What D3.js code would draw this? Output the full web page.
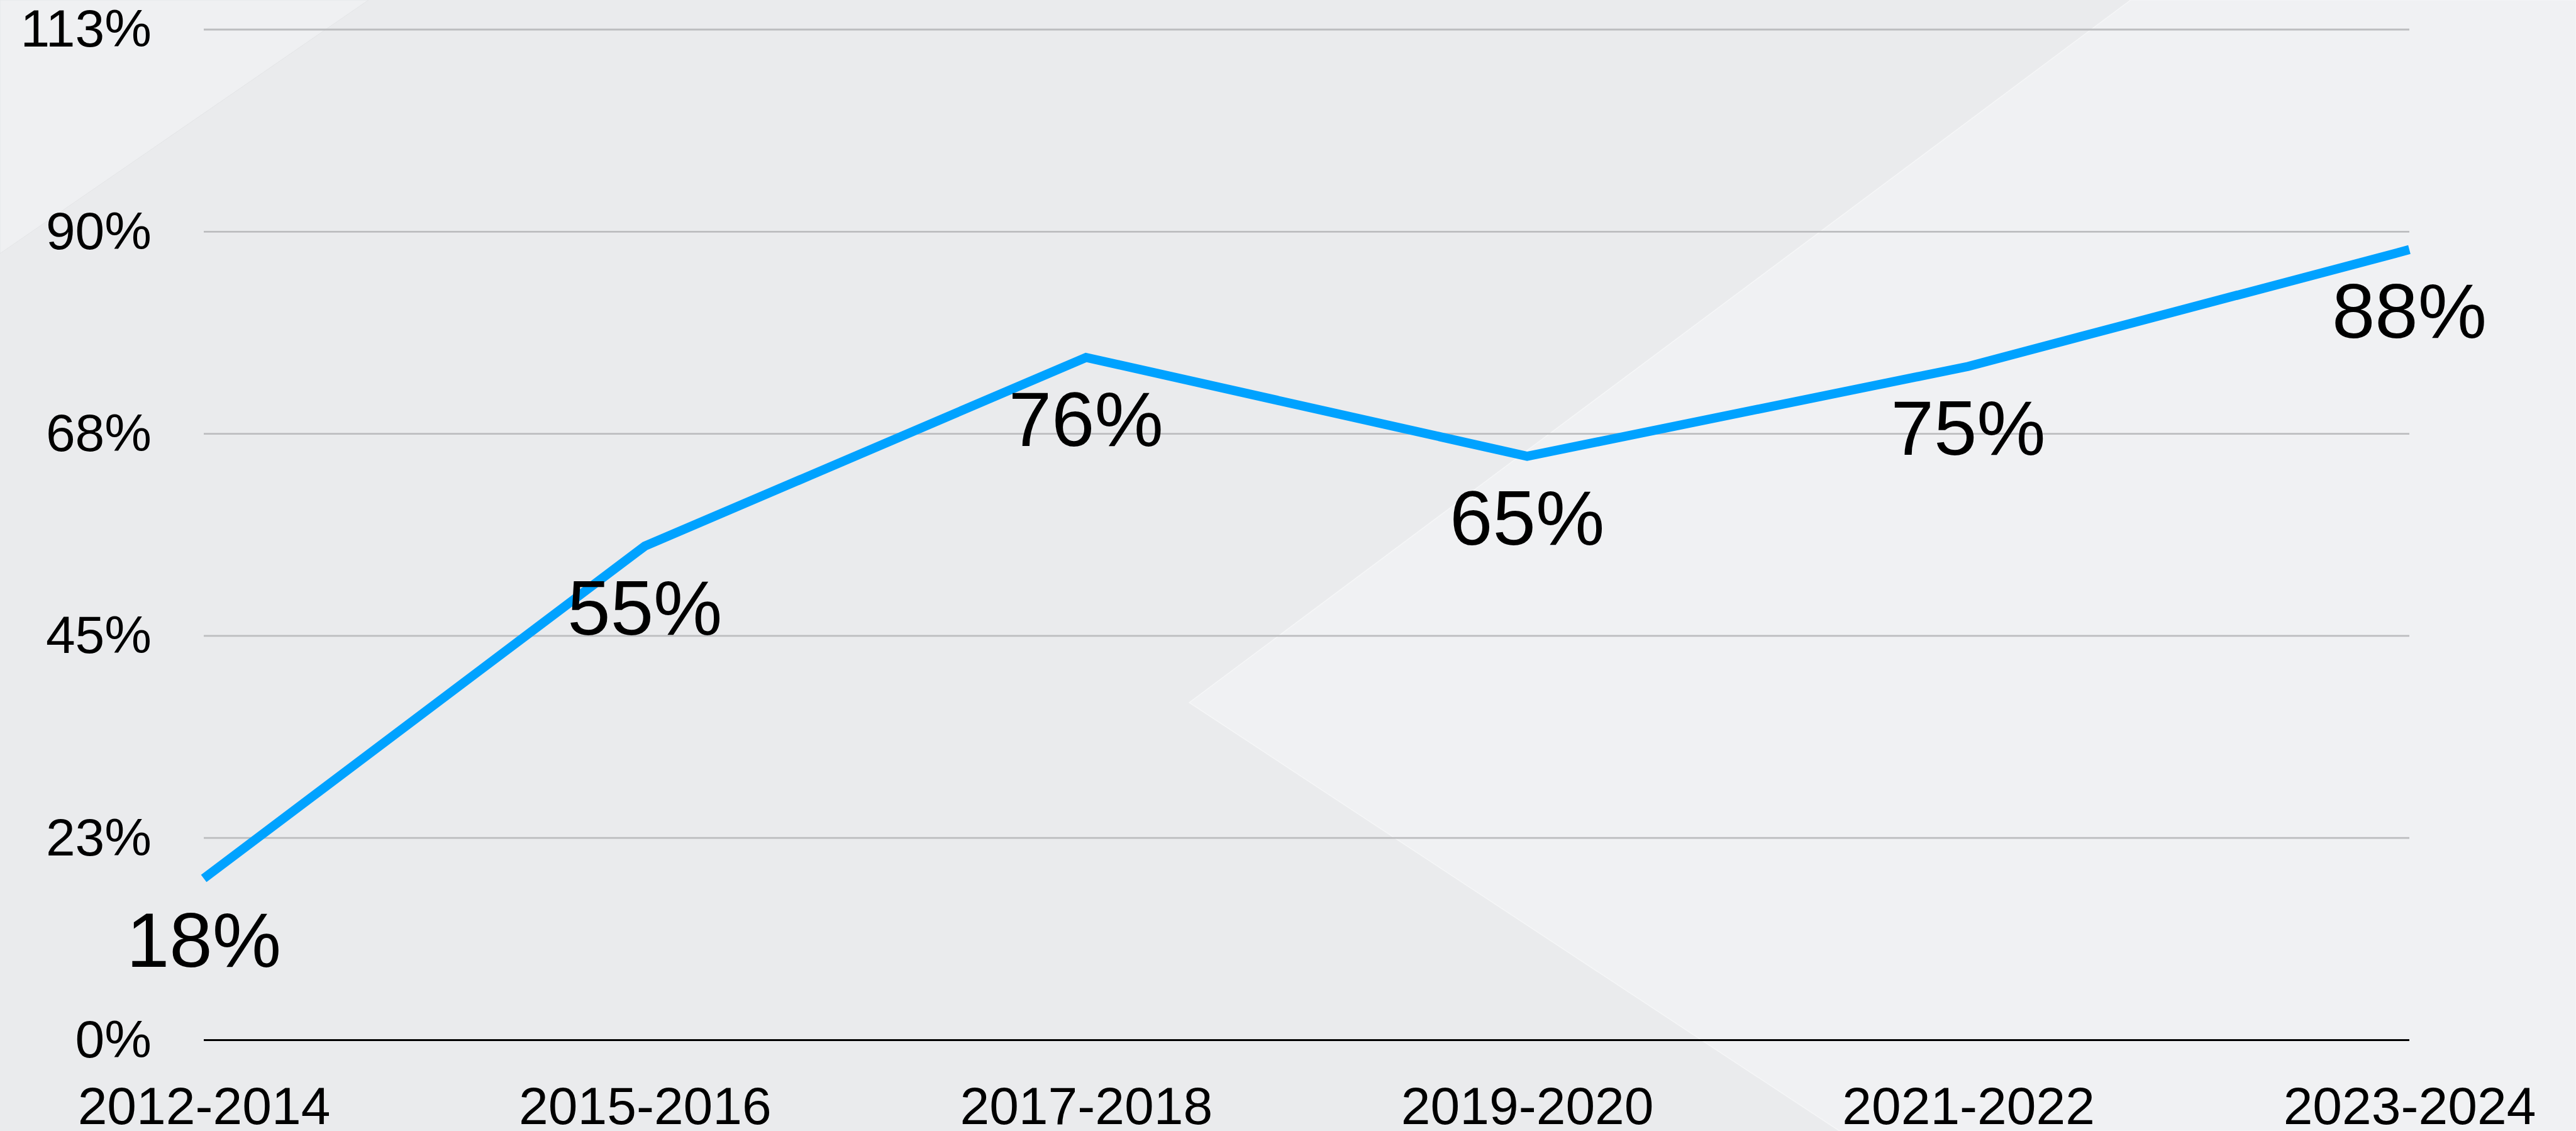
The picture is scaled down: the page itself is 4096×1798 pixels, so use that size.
<!DOCTYPE html>
<html>
<head>
<meta charset="utf-8">
<script src="https://cdn.jsdelivr.net/npm/d3@7"></script>
<style>
  html, body { margin: 0; padding: 0; background: #eaebed; overflow: hidden; }
  svg { display: block; font-family: "Liberation Sans", Arial, Helvetica, sans-serif; }
</style>
</head>
<body>
<div id="chart"></div>
<script>
// data
const periods = ["2012-2014", "2015-2016", "2017-2018", "2019-2020", "2021-2022", "2023-2024"];
const shares = [18, 55, 76, 65, 75, 88];
const yTickValues = [0, 22.5, 45, 67.5, 90, 112.5];
const yTickLabels = ["0%", "23%", "45%", "68%", "90%", "113%"];

const width = 4096, height = 1798;
const plotLeft = 324, plotRight = 3831, plotTop = 47, plotBottom = 1653.5;

const svg = d3.select('#chart')
  .append('svg')
  .attr('width', width)
  .attr('height', height);

// background shapes
svg.append('rect')
  .attr('width', width).attr('height', height)
  .attr('fill', '#eaebed');
svg.append('path')
  .attr('d', 'M0,0 L586,0 L0,403 Z')
  .attr('fill', '#eff0f2')
  .attr('stroke', '#e4e5e7').attr('stroke-width', 1);
svg.append('path')
  .attr('d', `M3388,0 L1891,1117 L2925,${height} L${width},${height} L${width},0 Z`)
  .attr('fill', '#f0f1f3')
  .attr('stroke', '#f5f6f7').attr('stroke-width', 1.5);

// scales
const x = d3.scalePoint()
  .domain(periods)
  .range([plotLeft, plotRight]);
const y = d3.scaleLinear()
  .domain([0, 112.5])
  .range([plotBottom, plotTop]);

// gridlines
svg.append('g')
  .selectAll('line')
  .data(yTickValues.filter(d => d > 0))
  .enter().append('line')
    .attr('x1', plotLeft).attr('x2', plotRight)
    .attr('y1', d => y(d)).attr('y2', d => y(d))
    .attr('stroke', '#bcbdbf')
    .attr('stroke-width', 2.8);

// baseline
svg.append('line')
  .attr('x1', plotLeft).attr('x2', plotRight)
  .attr('y1', y(0)).attr('y2', y(0))
  .attr('stroke', '#000')
  .attr('stroke-width', 3.2);

// y axis labels
const yAxis = d3.axisLeft(y)
  .tickValues(yTickValues)
  .tickFormat((d, i) => yTickLabels[i])
  .tickSize(0)
  .tickPadding(plotLeft - 241);
const yG = svg.append('g')
  .attr('transform', `translate(${plotLeft},0)`)
  .call(yAxis);
yG.select('.domain').remove();
yG.selectAll('text')
  .attr('font-size', 84)
  .attr('font-family', '"Liberation Sans", Arial, sans-serif')
  .attr('fill', '#000');

// x axis labels
const xAxis = d3.axisBottom(x).tickSize(0);
const xG = svg.append('g')
  .attr('transform', `translate(0,${plotBottom})`)
  .call(xAxis);
xG.select('.domain').remove();
xG.selectAll('text')
  .attr('y', 133)
  .attr('dy', 0)
  .attr('font-size', 84)
  .attr('font-family', '"Liberation Sans", Arial, sans-serif')
  .attr('fill', '#000');

// line
svg.append('path')
  .datum(shares)
  .attr('fill', 'none')
  .attr('stroke', '#00a2ff')
  .attr('stroke-width', 14.5)
  .attr('stroke-linejoin', 'miter')
  .attr('stroke-linecap', 'butt')
  .attr('d', d3.line()
    .x((d, i) => x(periods[i]))
    .y(d => y(d)));

// value labels
svg.append('g')
  .selectAll('text')
  .data(shares)
  .enter().append('text')
    .attr('x', (d, i) => x(periods[i]))
    .attr('y', d => y(d) + 140.5)
    .attr('text-anchor', 'middle')
    .attr('font-size', 123)
    .attr('fill', '#000')
    .text(d => d + '%');
</script>
</body>
</html>
